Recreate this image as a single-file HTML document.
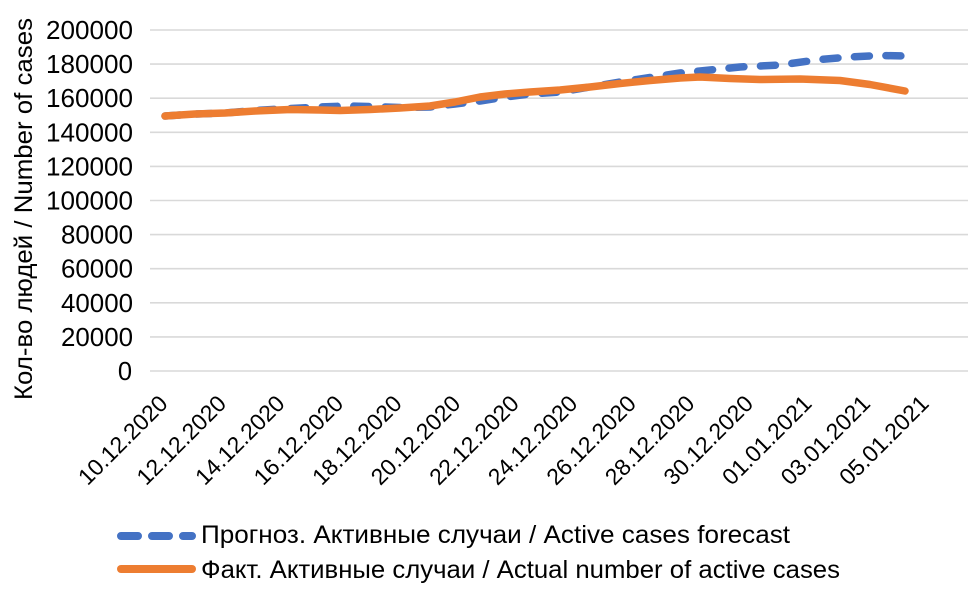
<!DOCTYPE html>
<html>
<head>
<meta charset="utf-8">
<style>
  html,body{margin:0;padding:0;background:#fff;}
  svg{display:block;}
  text{font-family:"Liberation Sans","Noto Sans CJK SC",sans-serif;fill:#000;}
</style>
</head>
<body>
<svg width="975" height="590" viewBox="0 0 975 590" xmlns="http://www.w3.org/2000/svg">
  <rect width="975" height="590" fill="#fff"/>
  <!-- gridlines -->
  <g stroke="#d9d9d9" stroke-width="1.6">
    <line x1="150" x2="968" y1="371" y2="371"/>
    <line x1="150" x2="968" y1="336.9" y2="336.9"/>
    <line x1="150" x2="968" y1="302.8" y2="302.8"/>
    <line x1="150" x2="968" y1="268.7" y2="268.7"/>
    <line x1="150" x2="968" y1="234.6" y2="234.6"/>
    <line x1="150" x2="968" y1="200.5" y2="200.5"/>
    <line x1="150" x2="968" y1="166.4" y2="166.4"/>
    <line x1="150" x2="968" y1="132.3" y2="132.3"/>
    <line x1="150" x2="968" y1="98.2" y2="98.2"/>
    <line x1="150" x2="968" y1="64.1" y2="64.1"/>
    <line x1="150" x2="968" y1="30" y2="30"/>
  </g>
  <!-- y tick labels -->
  <g font-size="25.5" text-anchor="end" lengthAdjust="spacingAndGlyphs">
    <text x="132" y="380">0</text>
    <text x="133" y="345.9" textLength="72" lengthAdjust="spacingAndGlyphs">20000</text>
    <text x="133" y="311.8" textLength="72" lengthAdjust="spacingAndGlyphs">40000</text>
    <text x="133" y="277.7" textLength="72" lengthAdjust="spacingAndGlyphs">60000</text>
    <text x="133" y="243.6" textLength="72" lengthAdjust="spacingAndGlyphs">80000</text>
    <text x="133" y="209.5" textLength="87" lengthAdjust="spacingAndGlyphs">100000</text>
    <text x="133" y="175.4" textLength="87" lengthAdjust="spacingAndGlyphs">120000</text>
    <text x="133" y="141.3" textLength="87" lengthAdjust="spacingAndGlyphs">140000</text>
    <text x="133" y="107.2" textLength="87" lengthAdjust="spacingAndGlyphs">160000</text>
    <text x="133" y="73.1" textLength="87" lengthAdjust="spacingAndGlyphs">180000</text>
    <text x="133" y="39" textLength="87" lengthAdjust="spacingAndGlyphs">200000</text>
  </g>
  <!-- y axis title -->
  <text font-size="25" text-anchor="middle" textLength="382" lengthAdjust="spacingAndGlyphs" transform="translate(32,209) rotate(-90)">Кол-во людей / Number of cases</text>
  <!-- x labels -->
  <g font-size="23" text-anchor="end">
    <text transform="translate(169,405) rotate(-45)">10.12.2020</text>
    <text transform="translate(227.55,405) rotate(-45)">12.12.2020</text>
    <text transform="translate(286.1,405) rotate(-45)">14.12.2020</text>
    <text transform="translate(344.65,405) rotate(-45)">16.12.2020</text>
    <text transform="translate(403.2,405) rotate(-45)">18.12.2020</text>
    <text transform="translate(461.75,405) rotate(-45)">20.12.2020</text>
    <text transform="translate(520.3,405) rotate(-45)">22.12.2020</text>
    <text transform="translate(578.85,405) rotate(-45)">24.12.2020</text>
    <text transform="translate(637.4,405) rotate(-45)">26.12.2020</text>
    <text transform="translate(695.95,405) rotate(-45)">28.12.2020</text>
    <text transform="translate(754.5,405) rotate(-45)">30.12.2020</text>
    <text transform="translate(813.05,405) rotate(-45)">01.01.2021</text>
    <text transform="translate(871.6,405) rotate(-45)">03.01.2021</text>
    <text transform="translate(930.15,405) rotate(-45)">05.01.2021</text>
  </g>
  <!-- forecast (blue dashed) -->
  <polyline fill="none" stroke="#4472c4" stroke-width="7.5" stroke-linecap="round" stroke-linejoin="round" stroke-dasharray="15 16.5"
    points="165,116 195,114 225,113 255,110.5 290,108.5 320,107 345,106 370,106.5 400,107.5 430,107 455,104 480,101 505,97 530,94 560,92 590,87 620,82 650,77.5 680,73 710,70 740,67 780,65 820,59.5 850,57 880,55.5 905,56"/>
  <!-- actual (orange solid) -->
  <polyline fill="none" stroke="#ed7d31" stroke-width="7.5" stroke-linecap="round" stroke-linejoin="round"
    points="165,116 195,114 225,113 255,111 290,109.5 320,110 340,110.5 370,109.5 400,108 430,106 455,102 480,97 505,94 530,92 560,90 590,87 620,83.5 650,80.5 680,78 700,77 730,78.5 760,79.5 800,79 840,80.5 870,84.5 905,91"/>
  <!-- legend -->
  <line x1="121" x2="192" y1="536" y2="536" stroke="#4472c4" stroke-width="8" stroke-linecap="round" stroke-dasharray="17 14"/>
  <line x1="121" x2="192" y1="569" y2="569" stroke="#ed7d31" stroke-width="8" stroke-linecap="round"/>
  <g font-size="25">
    <text x="201" y="543" textLength="589" lengthAdjust="spacingAndGlyphs">Прогноз. Активные случаи / Active cases forecast</text>
    <text x="201" y="578" textLength="639" lengthAdjust="spacingAndGlyphs">Факт. Активные случаи / Actual number of active cases</text>
  </g>
</svg>
</body>
</html>
